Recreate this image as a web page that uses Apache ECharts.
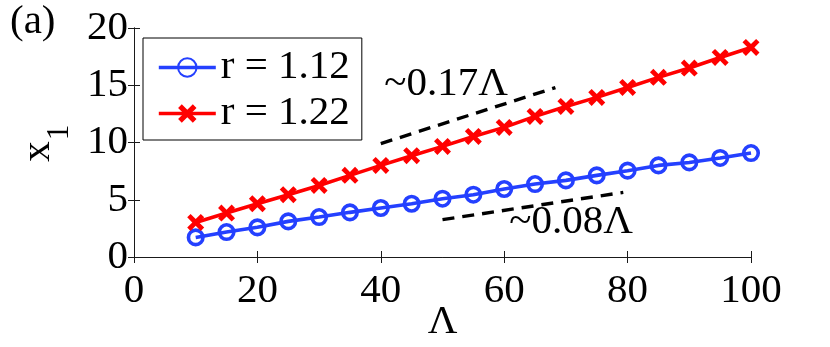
<!DOCTYPE html>
<html>
<head>
<meta charset="utf-8">
<script src="https://cdn.jsdelivr.net/npm/echarts@6/dist/echarts.min.js"></script>
<style>
  html, body { margin: 0; padding: 0; background: #fff; }
  #chart { width: 830px; height: 347px; }
</style>
</head>
<body>
<div id="chart"></div>
<script>
// Λ values (x axis)
const lambdas = [10, 15, 20, 25, 30, 35, 40, 45, 50, 55, 60, 65, 70, 75, 80, 85, 90, 95, 100];
// x1 for r = 1.12 (blue circles)
const blueVals = [1.71, 2.18, 2.59, 3.11, 3.49, 3.90, 4.28, 4.65, 5.09, 5.44, 5.94, 6.37, 6.69, 7.13, 7.54, 8.00, 8.26, 8.65, 9.08];
// x1 for r = 1.22 (red crosses)
const redVals = [3.02, 3.84, 4.65, 5.44, 6.25, 7.13, 8.00, 8.85, 9.66, 10.53, 11.32, 12.28, 13.15, 13.94, 14.81, 15.69, 16.50, 17.43, 18.30];
const seriesNames = ['r = 1.12', 'r = 1.22'];

// dashed slope guides
const upperGuide = [[40, 9.9], [68.3, 14.8]];
const lowerGuide = [[50, 3.26], [79.3, 5.64]];
const noteText = ['~0.17Λ', '~0.08Λ'];
const notePos = [[50.6, 15.05], [70.85, 3.02]];

const xTicks = { min: 0, max: 100, interval: 20 };
const yTicks = { min: 0, max: 20, interval: 5 };

const FONT = 'Liberation Serif';
const AXIS = '#1a1a1a';
const BLUE = '#2440ff';
const RED = '#ff0000';
const CROSS = 'path://M0,2L2,0L5,3L8,0L10,2L7,5L10,8L8,10L5,7L2,10L0,8L3,5Z';

const chart = echarts.init(document.getElementById('chart'));

const axisCommon = {
  type: 'value',
  axisLine: { show: true, lineStyle: { color: AXIS, width: 1 } },
  axisTick: { show: true, inside: true, length: 6, lineStyle: { color: AXIS, width: 1 } },
  splitLine: { show: false }
};

const option = {
  animation: false,
  backgroundColor: '#fff',
  textStyle: { fontFamily: FONT },
  grid: { left: 134, right: 79, top: 28, bottom: 90, containLabel: false, outerBoundsMode: 'none' },
  xAxis: [
    Object.assign({}, axisCommon, {
      position: 'bottom', min: xTicks.min, max: xTicks.max, interval: xTicks.interval,
      axisLabel: { fontFamily: FONT, fontSize: 41, color: '#000', margin: 14 },
      name: 'Λ', nameLocation: 'middle', nameGap: 45, nameMoveOverlap: false,
      nameTextStyle: { fontFamily: FONT, fontSize: 41, color: '#000' }
    }),
    Object.assign({}, axisCommon, {
      position: 'top', min: xTicks.min, max: xTicks.max, interval: xTicks.interval,
      axisLabel: { show: false }
    })
  ],
  yAxis: [
    Object.assign({}, axisCommon, {
      position: 'left', min: yTicks.min, max: yTicks.max, interval: yTicks.interval,
      axisLabel: { fontFamily: FONT, fontSize: 41, color: '#000', margin: 6 }
    }),
    Object.assign({}, axisCommon, {
      position: 'right', min: yTicks.min, max: yTicks.max, interval: yTicks.interval,
      axisLabel: { show: false }
    })
  ],
  legend: {
    data: seriesNames,
    orient: 'vertical',
    left: 143, top: 38,
    padding: [9, 12, 6, 14],
    itemGap: 5,
    itemWidth: 57, itemHeight: 23,
    backgroundColor: '#fff',
    borderColor: '#000', borderWidth: 1,
    lineStyle: { width: 3.6 },
    textStyle: { fontFamily: FONT, fontSize: 41, lineHeight: 40, color: '#000' }
  },
  series: [
    {
      name: seriesNames[0], type: 'line',
      data: lambdas.map((x, i) => [x, blueVals[i]]),
      symbol: 'circle', symbolSize: 14.5,
      lineStyle: { color: BLUE, width: 3.6 },
      itemStyle: { color: 'rgba(255,255,255,0)', borderColor: BLUE, borderWidth: 3.6 },
      z: 3
    },
    {
      name: seriesNames[1], type: 'line',
      data: lambdas.map((x, i) => [x, redVals[i]]),
      symbol: CROSS, symbolSize: 17,
      lineStyle: { color: RED, width: 3.6 },
      itemStyle: { color: RED },
      z: 3
    },
    {
      name: 'guide1', type: 'line', data: upperGuide, symbol: 'none', silent: true,
      lineStyle: { color: '#000', width: 3.4, type: [12, 8] }
    },
    {
      name: 'guide2', type: 'line', data: lowerGuide, symbol: 'none', silent: true,
      lineStyle: { color: '#000', width: 3.4, type: [12, 8] }
    },
    {
      name: 'notes', type: 'scatter', symbolSize: 0, silent: true,
      itemStyle: { opacity: 1 },
      data: notePos.map((p, i) => [p[0], p[1], noteText[i]]),
      label: {
        show: true, position: 'inside',
        formatter: p => p.data[2],
        fontFamily: FONT, fontSize: 41, color: '#000',
        textBorderWidth: 0
      }
    }
  ],
  graphic: [
    { type: 'text', x: 10, y: 22, style: { text: '(a)', font: '41px "Liberation Serif"', fill: '#000', verticalAlign: 'middle', align: 'left' } },
    { type: 'text', x: 38, y: 151.5, rotation: Math.PI / 2, style: { text: 'x', font: '41px "Liberation Serif"', fill: '#000', verticalAlign: 'middle', align: 'center' } },
    { type: 'text', x: 59.5, y: 132.5, rotation: Math.PI / 2, style: { text: '1', font: '31px "Liberation Serif"', fill: '#000', verticalAlign: 'middle', align: 'center' } }
  ]
};

chart.setOption(option);
</script>
</body>
</html>
